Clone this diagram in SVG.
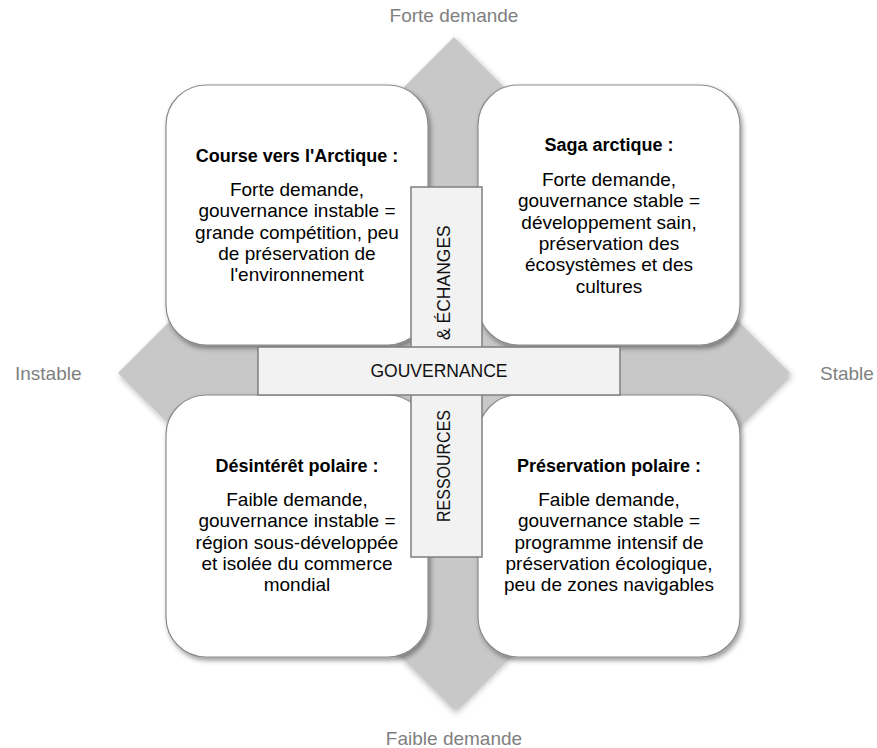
<svg xmlns="http://www.w3.org/2000/svg" width="877" height="748" viewBox="0 0 877 748">
  <defs>
    <filter id="softShadow" x="-10%" y="-10%" width="125%" height="125%">
      <feDropShadow dx="2" dy="3" stdDeviation="2.5" flood-color="#000" flood-opacity="0.4"/>
    </filter>
    <filter id="diamondShadow" x="-10%" y="-10%" width="125%" height="125%">
      <feDropShadow dx="2" dy="3" stdDeviation="3" flood-color="#000" flood-opacity="0.3"/>
    </filter>
    <style>
      text { font-family: "Liberation Sans", Arial, sans-serif; }
      .axis-label { font-size: 19px; fill: #7f7f7f; }
      .box { fill: #ffffff; stroke: #8a8a8a; stroke-width: 1.2; filter: url(#softShadow); }
      .bar { fill: #f2f2f2; stroke: #7f7f7f; stroke-width: 1.5; }
      .title { font-size: 18px; font-weight: bold; fill: #000; text-anchor: middle; }
      .body { font-size: 19px; fill: #000; text-anchor: middle; }
      .bar-text { font-size: 17.5px; fill: #111; }
    </style>
  </defs>

  <!-- four-way arrow backdrop -->
  <g id="axes">
    <polygon points="454,37 790,373 454,710 118,373" fill="#c8c8c8" filter="url(#diamondShadow)"/>
    <text class="axis-label" x="454" y="22" text-anchor="middle">Forte demande</text>
    <text class="axis-label" x="454" y="745" text-anchor="middle">Faible demande</text>
    <text class="axis-label" x="15" y="380">Instable</text>
    <text class="axis-label" x="820" y="380">Stable</text>
  </g>

  <!-- top-left scenario -->
  <g id="course-arctique">
    <rect class="box" x="166" y="85" width="262" height="260" rx="40" ry="40"/>
    <text class="title" x="297" y="162">Course vers l'Arctique :</text>
    <text class="body" x="297" y="196">Forte demande,</text>
    <text class="body" x="297" y="217.3">gouvernance instable =</text>
    <text class="body" x="297" y="238.6">grande compétition, peu</text>
    <text class="body" x="297" y="259.9">de préservation de</text>
    <text class="body" x="297" y="281.2">l'environnement</text>
  </g>

  <!-- top-right scenario -->
  <g id="saga-arctique">
    <rect class="box" x="478" y="85" width="262" height="260" rx="40" ry="40"/>
    <text class="title" x="609" y="151">Saga arctique :</text>
    <text class="body" x="609" y="186">Forte demande,</text>
    <text class="body" x="609" y="207.3">gouvernance stable =</text>
    <text class="body" x="609" y="228.6">développement sain,</text>
    <text class="body" x="609" y="249.9">préservation des</text>
    <text class="body" x="609" y="271.2">écosystèmes et des</text>
    <text class="body" x="609" y="292.5">cultures</text>
  </g>

  <!-- bottom-left scenario -->
  <g id="desinteret-polaire">
    <rect class="box" x="166" y="395" width="262" height="262" rx="40" ry="40"/>
    <text class="title" x="297" y="472">Désintérêt polaire :</text>
    <text class="body" x="297" y="506">Faible demande,</text>
    <text class="body" x="297" y="527.3">gouvernance instable =</text>
    <text class="body" x="297" y="548.6">région sous-développée</text>
    <text class="body" x="297" y="569.9">et isolée du commerce</text>
    <text class="body" x="297" y="591.2">mondial</text>
  </g>

  <!-- bottom-right scenario -->
  <g id="preservation-polaire">
    <rect class="box" x="478" y="395" width="262" height="262" rx="40" ry="40"/>
    <text class="title" x="609" y="472">Préservation polaire :</text>
    <text class="body" x="609" y="506">Faible demande,</text>
    <text class="body" x="609" y="527.3">gouvernance stable =</text>
    <text class="body" x="609" y="548.6">programme intensif de</text>
    <text class="body" x="609" y="569.9">préservation écologique,</text>
    <text class="body" x="609" y="591.2">peu de zones navigables</text>
  </g>

  <!-- vertical axis bar -->
  <g id="ressources-echanges">
    <rect class="bar" x="411" y="187" width="71" height="370"/>
    <text class="bar-text" transform="translate(449.5,340) rotate(-90)">&amp; ÉCHANGES</text>
    <text class="bar-text" transform="translate(449.5,410) rotate(-90)" text-anchor="end" textLength="112" lengthAdjust="spacingAndGlyphs">RESSOURCES</text>
  </g>

  <!-- horizontal axis bar, drawn over the vertical one -->
  <g id="gouvernance">
    <rect class="bar" x="258" y="347" width="362" height="48"/>
    <text class="bar-text" x="439" y="377" text-anchor="middle">GOUVERNANCE</text>
  </g>
</svg>
